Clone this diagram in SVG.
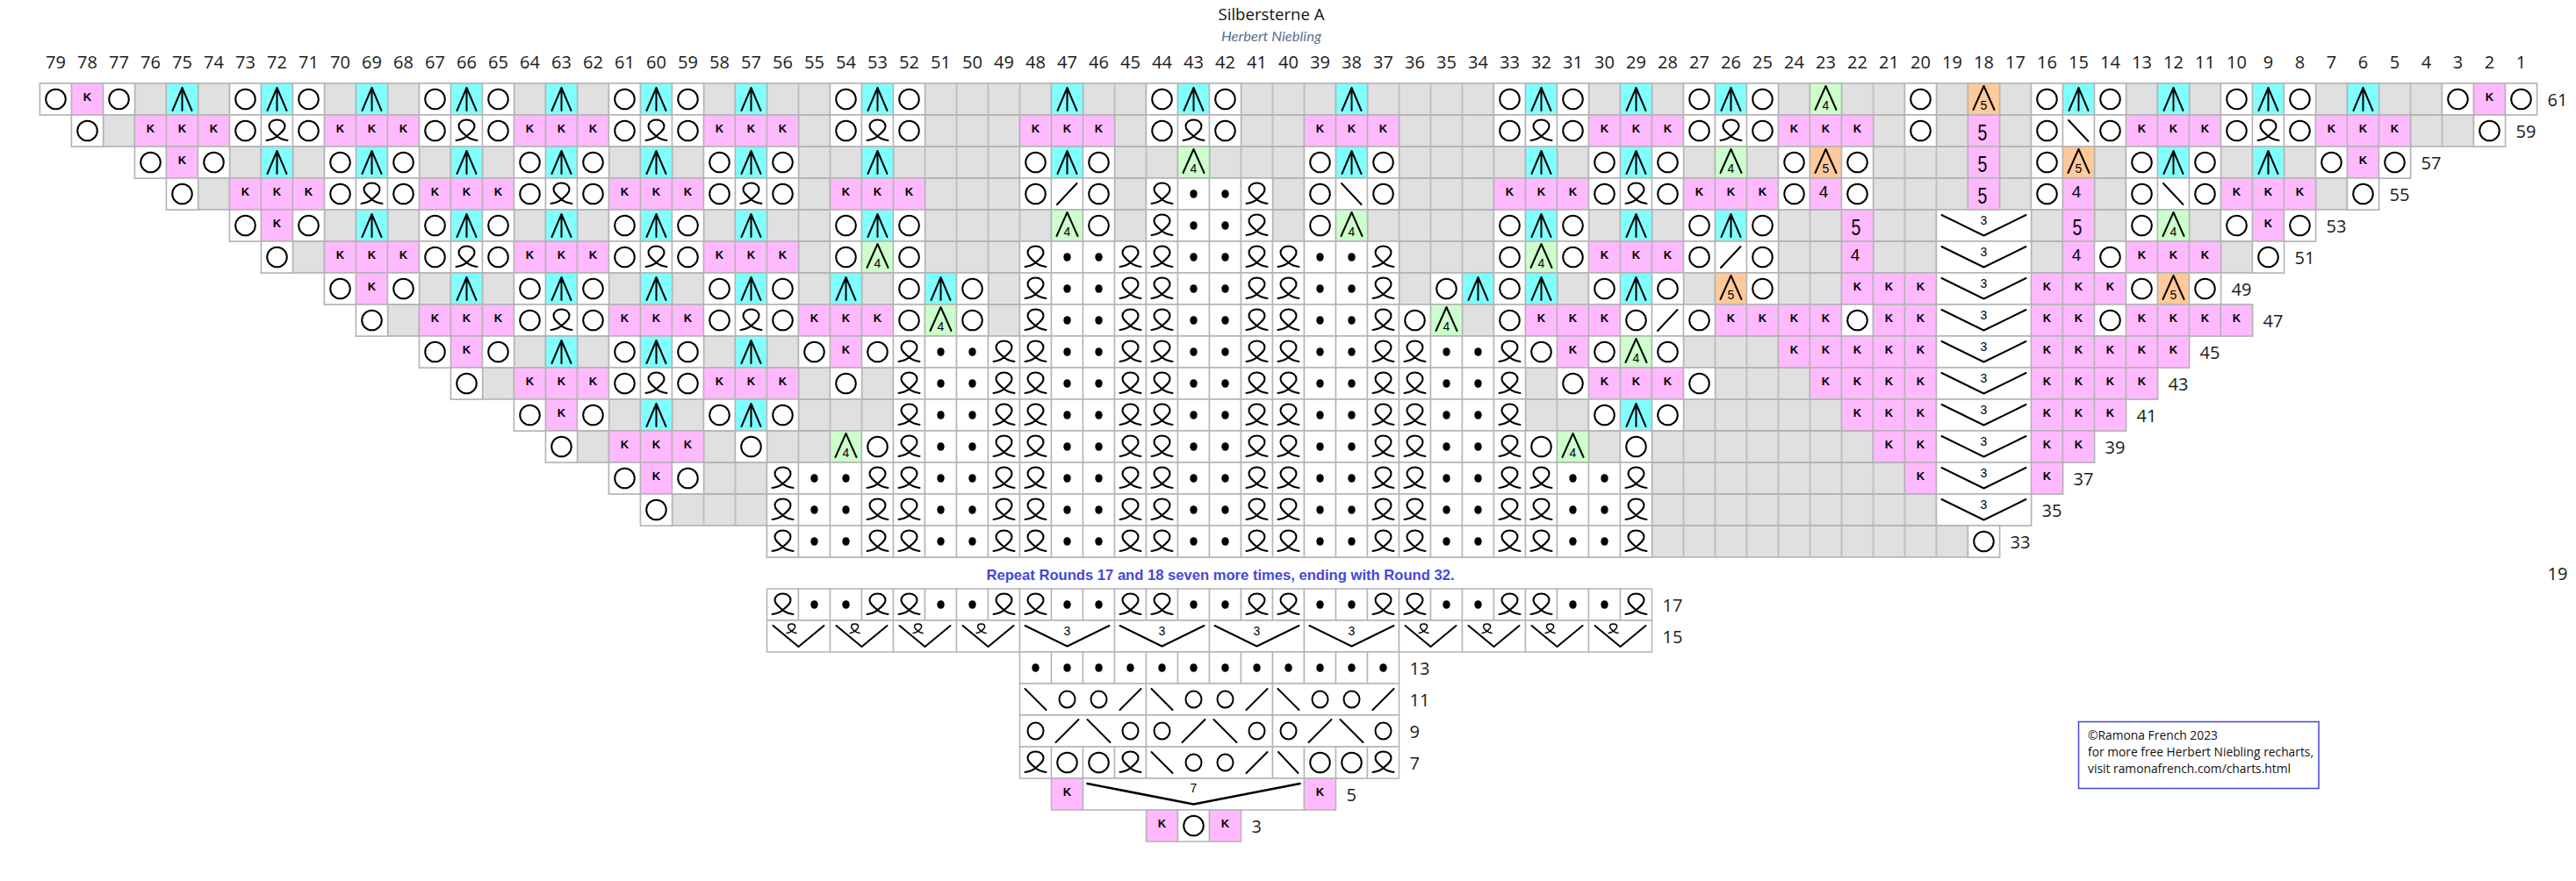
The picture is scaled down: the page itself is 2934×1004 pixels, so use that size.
<svg xmlns="http://www.w3.org/2000/svg" width="2934" height="1004" viewBox="0 0 2934 1004">
<style>
.cl{stroke:#b4b4b4;stroke-width:1.5}
.w{fill:#fff}.p{fill:#ffb9ff}.cy{fill:#80ffff}.gn{fill:#ccffcc}.or{fill:#ffc99a}
.gb{fill:url(#gp);stroke:#b4b4b4;stroke-width:1.5}
.ln{fill:none;stroke:#000;stroke-width:2;stroke-linecap:round;stroke-linejoin:round}
.kt{font-family:"Liberation Sans",Arial,sans-serif;font-weight:bold;font-size:13px;text-anchor:middle;fill:#000}
.st{font-family:"Liberation Sans",Arial,sans-serif;font-size:14px;text-anchor:middle;fill:#000}
.bt{font-family:"Liberation Sans",Arial,sans-serif;text-anchor:middle;fill:#000}
.hn{font-family:"Open Sans","Liberation Sans",sans-serif;font-size:20px;text-anchor:middle;fill:#1a1a1a}
.lb{font-family:"Open Sans","Liberation Sans",sans-serif;font-size:20px;fill:#1a1a1a}
.cp{font-family:"Open Sans","Liberation Sans",sans-serif;font-size:14px;fill:#111}
</style>
<defs>
<pattern id="gp" width="36" height="36" patternUnits="userSpaceOnUse"><rect width="36" height="36" fill="#e0e0e0" stroke="#b4b4b4" stroke-width="1.5"/></pattern>
<path id="qp" d="M6 29C10 28.5 15 27 18 24C23 20 27 17 27 13C27 8.5 23 5.5 18 5.5C13 5.5 9 8.5 9 13C9 17 13 20 18 24C21 27 26 28.5 30 29"/>
<g id="o"><rect class="cl w" width="36" height="36"/><circle class="ln" cx="18" cy="18" r="11.3"/></g>
<g id="k"><rect class="cl p" width="36" height="36"/><text class="kt" x="18" y="19.5">K</text></g>
<g id="q"><rect class="cl w" width="36" height="36"/><use href="#qp" class="ln"/></g>
<g id="d"><rect class="cl w" width="36" height="36"/><ellipse cx="18" cy="18" rx="4.2" ry="4.8"/></g>
<g id="c"><rect class="cl cy" width="36" height="36"/><path class="ln" d="M7 31L18 5L29 31M18 5V31"/></g>
<g id="a4"><rect class="cl gn" width="36" height="36"/><path class="ln" d="M6 30L18 3L30 30"/><text class="st" x="18" y="30">4</text></g>
<g id="a5"><rect class="cl or" width="36" height="36"/><path class="ln" d="M6 30L18 3L30 30"/><text class="st" x="18" y="30">5</text></g>
<g id="n5"><rect class="cl p" width="36" height="36"/><text class="bt" font-size="25" transform="translate(16.5 29) scale(0.78 1)">5</text></g>
<g id="n4"><rect class="cl p" width="36" height="36"/><text class="bt" font-size="19" x="15.5" y="22">4</text></g>
<g id="bs"><rect class="cl w" width="36" height="36"/><path class="ln" d="M6.5 6L29 30"/></g>
<g id="fs"><rect class="cl w" width="36" height="36"/><path class="ln" d="M6.5 30L29 6"/></g>
<g id="v3"><rect class="cl w" width="108" height="36"/><path class="ln" d="M6 6L54 29.5L102 6"/><text class="st" font-size="13" x="54" y="17">3</text></g>
<g id="v2"><rect class="cl w" width="72" height="36"/><path class="ln" d="M7 6L36 30L65 6"/><use href="#qp" class="ln" transform="translate(20 1.5) scale(0.45)" style="stroke-width:3.3"/></g>
<g id="v7"><rect class="cl w" width="252" height="36"/><path class="ln" d="M5 6L126 29.5L247 6" style="stroke-width:2.5"/><text class="st" x="126" y="16">7</text></g>
<g id="g4a"><rect class="cl w" width="144" height="36"/><path class="ln" d="M6 6L30 30M114 30L138 6"/><ellipse class="ln" cx="54" cy="18" rx="9" ry="9.5"/><ellipse class="ln" cx="90" cy="18" rx="9" ry="9.5"/></g>
<g id="g4b"><rect class="cl w" width="144" height="36"/><path class="ln" d="M41 31L67 5M77 5L103 31"/><ellipse class="ln" cx="18" cy="18" rx="9" ry="9.5"/><ellipse class="ln" cx="126" cy="18" rx="9" ry="9.5"/></g>
<g id="K3"><use href="#k"/><use href="#k" x="36"/><use href="#k" x="72"/></g>
<g id="OQO"><use href="#o"/><use href="#q" x="36"/><use href="#o" x="72"/></g>
<g id="OCO"><use href="#o"/><use href="#c" x="36"/><use href="#o" x="72"/></g>
<g id="b4"><use href="#q"/><use href="#d" x="36"/><use href="#d" x="72"/><use href="#q" x="108"/></g>
<g id="b12"><use href="#b4"/><use href="#b4" x="144"/><use href="#b4" x="288"/></g>
<g id="b20"><use href="#b12"/><use href="#b4" x="432"/><use href="#b4" x="576"/></g>
<g id="b28"><use href="#b20"/><use href="#b4" x="720"/><use href="#b4" x="864"/></g>
</defs>
<rect width="2934" height="1004" fill="#fff"/>
<g id="title">
<text x="1448" y="23" font-family="Open Sans, Liberation Sans, sans-serif" font-size="19" text-anchor="middle" fill="#111" textLength="121" lengthAdjust="spacingAndGlyphs">Silbersterne A</text>
<text x="1448" y="47" font-family="Lato, Liberation Sans, sans-serif" font-style="italic" font-size="16" text-anchor="middle" fill="#5b6e8c" textLength="114" lengthAdjust="spacingAndGlyphs">Herbert Niebling</text>
</g>
<g id="header" class="hn" transform="translate(45.5 78)">
<text x="18">79</text><text x="54">78</text><text x="90">77</text><text x="126">76</text><text x="162">75</text><text x="198">74</text><text x="234">73</text><text x="270">72</text><text x="306">71</text><text x="342">70</text><text x="378">69</text><text x="414">68</text><text x="450">67</text><text x="486">66</text><text x="522">65</text><text x="558">64</text><text x="594">63</text><text x="630">62</text><text x="666">61</text><text x="702">60</text><text x="738">59</text><text x="774">58</text><text x="810">57</text><text x="846">56</text><text x="882">55</text><text x="918">54</text><text x="954">53</text><text x="990">52</text><text x="1026">51</text><text x="1062">50</text><text x="1098">49</text><text x="1134">48</text><text x="1170">47</text><text x="1206">46</text><text x="1242">45</text><text x="1278">44</text><text x="1314">43</text><text x="1350">42</text><text x="1386">41</text><text x="1422">40</text><text x="1458">39</text><text x="1494">38</text><text x="1530">37</text><text x="1566">36</text><text x="1602">35</text><text x="1638">34</text><text x="1674">33</text><text x="1710">32</text><text x="1746">31</text><text x="1782">30</text><text x="1818">29</text><text x="1854">28</text><text x="1890">27</text><text x="1926">26</text><text x="1962">25</text><text x="1998">24</text><text x="2034">23</text><text x="2070">22</text><text x="2106">21</text><text x="2142">20</text><text x="2178">19</text><text x="2214">18</text><text x="2250">17</text><text x="2286">16</text><text x="2322">15</text><text x="2358">14</text><text x="2394">13</text><text x="2430">12</text><text x="2466">11</text><text x="2502">10</text><text x="2538">9</text><text x="2574">8</text><text x="2610">7</text><text x="2646">6</text><text x="2682">5</text><text x="2718">4</text><text x="2754">3</text><text x="2790">2</text><text x="2826">1</text>
</g>
<g id="chart" transform="translate(45.5 95)">
<g id="r61">
<rect class="gb" width="2844" height="36"/>
<use href="#o"/><use href="#k" x="36"/><use href="#o" x="72"/><use href="#c" x="144"/><use href="#OCO" x="216"/><use href="#c" x="360"/><use href="#OCO" x="432"/><use href="#c" x="576"/><use href="#OCO" x="648"/><use href="#c" x="792"/><use href="#OCO" x="900"/><use href="#c" x="1152"/><use href="#OCO" x="1260"/><use href="#c" x="1476"/><use href="#OCO" x="1656"/><use href="#c" x="1800"/><use href="#OCO" x="1872"/><use href="#a4" x="2016"/><use href="#o" x="2124"/><use href="#a5" x="2196"/><use href="#OCO" x="2268"/><use href="#c" x="2412"/><use href="#OCO" x="2484"/><use href="#c" x="2628"/><use href="#o" x="2736"/><use href="#k" x="2772"/><use href="#o" x="2808"/>
<text class="lb" x="2856" y="26">61</text>
</g>
<g id="r59" transform="translate(0 36)">
<rect class="gb" x="36" width="2772" height="36"/>
<use href="#o" x="36"/><use href="#K3" x="108"/><use href="#OQO" x="216"/><use href="#K3" x="324"/><use href="#OQO" x="432"/><use href="#K3" x="540"/><use href="#OQO" x="648"/><use href="#K3" x="756"/><use href="#OQO" x="900"/><use href="#K3" x="1116"/><use href="#OQO" x="1260"/><use href="#K3" x="1440"/><use href="#OQO" x="1656"/><use href="#K3" x="1764"/><use href="#OQO" x="1872"/><use href="#K3" x="1980"/><use href="#o" x="2124"/><use href="#n5" x="2196"/><use href="#o" x="2268"/><use href="#bs" x="2304"/><use href="#o" x="2340"/><use href="#K3" x="2376"/><use href="#OQO" x="2484"/><use href="#K3" x="2592"/><use href="#o" x="2772"/>
<text class="lb" x="2820" y="26">59</text>
</g>
<g id="r57" transform="translate(0 72)">
<rect class="gb" x="108" width="2592" height="36"/>
<use href="#o" x="108"/><use href="#k" x="144"/><use href="#o" x="180"/><use href="#c" x="252"/><use href="#OCO" x="324"/><use href="#c" x="468"/><use href="#OCO" x="540"/><use href="#c" x="684"/><use href="#OCO" x="756"/><use href="#c" x="936"/><use href="#OCO" x="1116"/><use href="#a4" x="1296"/><use href="#OCO" x="1440"/><use href="#c" x="1692"/><use href="#OCO" x="1764"/><use href="#a4" x="1908"/><use href="#o" x="1980"/><use href="#a5" x="2016"/><use href="#o" x="2052"/><use href="#n5" x="2196"/><use href="#o" x="2268"/><use href="#a5" x="2304"/><use href="#OCO" x="2376"/><use href="#c" x="2520"/><use href="#o" x="2592"/><use href="#k" x="2628"/><use href="#o" x="2664"/>
<text class="lb" x="2712" y="26">57</text>
</g>
<g id="r55" transform="translate(0 108)">
<rect class="gb" x="144" width="2520" height="36"/>
<use href="#o" x="144"/><use href="#K3" x="216"/><use href="#OQO" x="324"/><use href="#K3" x="432"/><use href="#OQO" x="540"/><use href="#K3" x="648"/><use href="#OQO" x="756"/><use href="#K3" x="900"/><use href="#o" x="1116"/><use href="#fs" x="1152"/><use href="#o" x="1188"/><use href="#b4" x="1260"/><use href="#o" x="1440"/><use href="#bs" x="1476"/><use href="#o" x="1512"/><use href="#K3" x="1656"/><use href="#OQO" x="1764"/><use href="#K3" x="1872"/><use href="#o" x="1980"/><use href="#n4" x="2016"/><use href="#o" x="2052"/><use href="#n5" x="2196"/><use href="#o" x="2268"/><use href="#n4" x="2304"/><use href="#o" x="2376"/><use href="#bs" x="2412"/><use href="#o" x="2448"/><use href="#K3" x="2484"/><use href="#o" x="2628"/>
<text class="lb" x="2676" y="26">55</text>
</g>
<g id="r53" transform="translate(0 144)">
<rect class="gb" x="216" width="2376" height="36"/>
<use href="#o" x="216"/><use href="#k" x="252"/><use href="#o" x="288"/><use href="#c" x="360"/><use href="#OCO" x="432"/><use href="#c" x="576"/><use href="#OCO" x="648"/><use href="#c" x="792"/><use href="#OCO" x="900"/><use href="#a4" x="1152"/><use href="#o" x="1188"/><use href="#b4" x="1260"/><use href="#o" x="1440"/><use href="#a4" x="1476"/><use href="#OCO" x="1656"/><use href="#c" x="1800"/><use href="#OCO" x="1872"/><use href="#n5" x="2052"/><use href="#v3" x="2160"/><use href="#n5" x="2304"/><use href="#o" x="2376"/><use href="#a4" x="2412"/><use href="#o" x="2484"/><use href="#k" x="2520"/><use href="#o" x="2556"/>
<text class="lb" x="2604" y="26">53</text>
</g>
<g id="r51" transform="translate(0 180)">
<rect class="gb" x="252" width="2304" height="36"/>
<use href="#o" x="252"/><use href="#K3" x="324"/><use href="#OQO" x="432"/><use href="#K3" x="540"/><use href="#OQO" x="648"/><use href="#K3" x="756"/><use href="#o" x="900"/><use href="#a4" x="936"/><use href="#o" x="972"/><use href="#b12" x="1116"/><use href="#o" x="1656"/><use href="#a4" x="1692"/><use href="#o" x="1728"/><use href="#K3" x="1764"/><use href="#o" x="1872"/><use href="#fs" x="1908"/><use href="#o" x="1944"/><use href="#n4" x="2052"/><use href="#v3" x="2160"/><use href="#n4" x="2304"/><use href="#o" x="2340"/><use href="#K3" x="2376"/><use href="#o" x="2520"/>
<text class="lb" x="2568" y="26">51</text>
</g>
<g id="r49" transform="translate(0 216)">
<rect class="gb" x="324" width="2160" height="36"/>
<use href="#o" x="324"/><use href="#k" x="360"/><use href="#o" x="396"/><use href="#c" x="468"/><use href="#OCO" x="540"/><use href="#c" x="684"/><use href="#OCO" x="756"/><use href="#c" x="900"/><use href="#OCO" x="972"/><use href="#b12" x="1116"/><use href="#OCO" x="1584"/><use href="#c" x="1692"/><use href="#OCO" x="1764"/><use href="#a5" x="1908"/><use href="#o" x="1944"/><use href="#K3" x="2052"/><use href="#v3" x="2160"/><use href="#K3" x="2268"/><use href="#o" x="2376"/><use href="#a5" x="2412"/><use href="#o" x="2448"/>
<text class="lb" x="2496" y="26">49</text>
</g>
<g id="r47" transform="translate(0 252)">
<rect class="gb" x="360" width="2160" height="36"/>
<use href="#o" x="360"/><use href="#K3" x="432"/><use href="#OQO" x="540"/><use href="#K3" x="648"/><use href="#OQO" x="756"/><use href="#K3" x="864"/><use href="#o" x="972"/><use href="#a4" x="1008"/><use href="#o" x="1044"/><use href="#b12" x="1116"/><use href="#o" x="1548"/><use href="#a4" x="1584"/><use href="#o" x="1656"/><use href="#K3" x="1692"/><use href="#o" x="1800"/><use href="#fs" x="1836"/><use href="#o" x="1872"/><use href="#K3" x="1908"/><use href="#k" x="2016"/><use href="#o" x="2052"/><use href="#k" x="2088"/><use href="#k" x="2124"/><use href="#v3" x="2160"/><use href="#k" x="2268"/><use href="#k" x="2304"/><use href="#o" x="2340"/><use href="#K3" x="2376"/><use href="#k" x="2484"/>
<text class="lb" x="2532" y="26">47</text>
</g>
<g id="r45" transform="translate(0 288)">
<rect class="gb" x="432" width="2016" height="36"/>
<use href="#o" x="432"/><use href="#k" x="468"/><use href="#o" x="504"/><use href="#c" x="576"/><use href="#OCO" x="648"/><use href="#c" x="792"/><use href="#o" x="864"/><use href="#k" x="900"/><use href="#o" x="936"/><use href="#b20" x="972"/><use href="#o" x="1692"/><use href="#k" x="1728"/><use href="#o" x="1764"/><use href="#a4" x="1800"/><use href="#o" x="1836"/><use href="#K3" x="1980"/><use href="#k" x="2088"/><use href="#k" x="2124"/><use href="#v3" x="2160"/><use href="#K3" x="2268"/><use href="#k" x="2376"/><use href="#k" x="2412"/>
<text class="lb" x="2460" y="26">45</text>
</g>
<g id="r43" transform="translate(0 324)">
<rect class="gb" x="468" width="1944" height="36"/>
<use href="#o" x="468"/><use href="#K3" x="540"/><use href="#OQO" x="648"/><use href="#K3" x="756"/><use href="#o" x="900"/><use href="#b20" x="972"/><use href="#o" x="1728"/><use href="#K3" x="1764"/><use href="#o" x="1872"/><use href="#k" x="2016"/><use href="#K3" x="2052"/><use href="#v3" x="2160"/><use href="#K3" x="2268"/><use href="#k" x="2376"/>
<text class="lb" x="2424" y="26">43</text>
</g>
<g id="r41" transform="translate(0 360)">
<rect class="gb" x="540" width="1836" height="36"/>
<use href="#o" x="540"/><use href="#k" x="576"/><use href="#o" x="612"/><use href="#c" x="684"/><use href="#OCO" x="756"/><use href="#b20" x="972"/><use href="#OCO" x="1764"/><use href="#K3" x="2052"/><use href="#v3" x="2160"/><use href="#K3" x="2268"/>
<text class="lb" x="2388" y="26">41</text>
</g>
<g id="r39" transform="translate(0 396)">
<rect class="gb" x="576" width="1764" height="36"/>
<use href="#o" x="576"/><use href="#K3" x="648"/><use href="#o" x="792"/><use href="#a4" x="900"/><use href="#o" x="936"/><use href="#b20" x="972"/><use href="#o" x="1692"/><use href="#a4" x="1728"/><use href="#o" x="1800"/><use href="#k" x="2088"/><use href="#k" x="2124"/><use href="#v3" x="2160"/><use href="#k" x="2268"/><use href="#k" x="2304"/>
<text class="lb" x="2352" y="26">39</text>
</g>
<g id="r37" transform="translate(0 432)">
<rect class="gb" x="648" width="1656" height="36"/>
<use href="#o" x="648"/><use href="#k" x="684"/><use href="#o" x="720"/><use href="#b28" x="828"/><use href="#k" x="2124"/><use href="#v3" x="2160"/><use href="#k" x="2268"/>
<text class="lb" x="2316" y="26">37</text>
</g>
<g id="r35" transform="translate(0 468)">
<rect class="gb" x="684" width="1584" height="36"/>
<use href="#o" x="684"/><use href="#b28" x="828"/><use href="#v3" x="2160"/>
<text class="lb" x="2280" y="26">35</text>
</g>
<g id="r33" transform="translate(0 504)">
<rect class="gb" x="828" width="1404" height="36"/>
<use href="#b28" x="828"/><use href="#o" x="2196"/>
<text class="lb" x="2244" y="26">33</text>
</g>
<g id="repeat-note">
<text x="1344.5" y="566" font-family="Liberation Sans, Arial, sans-serif" font-weight="bold" font-size="17" fill="#4646d8" text-anchor="middle" textLength="533" lengthAdjust="spacingAndGlyphs">Repeat Rounds 17 and 18 seven more times, ending with Round 32.</text>
<text class="lb" x="2856" y="566">19</text>
</g>
<g id="r17" transform="translate(0 576)">
<use href="#b28" x="828"/>
<text class="lb" x="1848" y="26">17</text>
</g>
<g id="r15" transform="translate(0 612)">
<use href="#v2" x="828"/><use href="#v2" x="900"/><use href="#v2" x="972"/><use href="#v2" x="1044"/><use href="#v3" x="1116"/><use href="#v3" x="1224"/><use href="#v3" x="1332"/><use href="#v3" x="1440"/><use href="#v2" x="1548"/><use href="#v2" x="1620"/><use href="#v2" x="1692"/><use href="#v2" x="1764"/>
<text class="lb" x="1848" y="26">15</text>
</g>
<g id="r13" transform="translate(0 648)">
<use href="#d" x="1116"/><use href="#d" x="1152"/><use href="#d" x="1188"/><use href="#d" x="1224"/><use href="#d" x="1260"/><use href="#d" x="1296"/><use href="#d" x="1332"/><use href="#d" x="1368"/><use href="#d" x="1404"/><use href="#d" x="1440"/><use href="#d" x="1476"/><use href="#d" x="1512"/>
<text class="lb" x="1560" y="26">13</text>
</g>
<g id="r11" transform="translate(0 684)">
<use href="#g4a" x="1116"/><use href="#g4a" x="1260"/><use href="#g4a" x="1404"/>
<text class="lb" x="1560" y="26">11</text>
</g>
<g id="r9" transform="translate(0 720)">
<use href="#g4b" x="1116"/><use href="#g4b" x="1260"/><use href="#g4b" x="1404"/>
<text class="lb" x="1560" y="26">9</text>
</g>
<g id="r7" transform="translate(0 756)">
<use href="#q" x="1116"/><use href="#o" x="1152"/><use href="#o" x="1188"/><use href="#q" x="1224"/><use href="#g4a" x="1260"/><use href="#bs" x="1404"/><use href="#o" x="1440"/><use href="#o" x="1476"/><use href="#q" x="1512"/>
<text class="lb" x="1560" y="26">7</text>
</g>
<g id="r5" transform="translate(0 792)">
<use href="#k" x="1152"/><use href="#v7" x="1188"/><use href="#k" x="1440"/>
<text class="lb" x="1488" y="26">5</text>
</g>
<g id="r3" transform="translate(0 828)">
<use href="#k" x="1260"/><use href="#o" x="1296"/><use href="#k" x="1332"/>
<text class="lb" x="1380" y="26">3</text>
</g>
</g>
<g id="copyright">
<rect x="2367.5" y="822.5" width="273.5" height="76" fill="none" stroke="#4646d6" stroke-width="1.5"/>
<text class="cp" x="2378" y="842.5" textLength="148" lengthAdjust="spacingAndGlyphs">©Ramona French 2023</text>
<text class="cp" x="2378" y="861.5" textLength="257" lengthAdjust="spacingAndGlyphs">for more free Herbert Niebling recharts,</text>
<text class="cp" x="2378" y="880.5" textLength="231" lengthAdjust="spacingAndGlyphs">visit ramonafrench.com/charts.html</text>
</g>
</svg>
